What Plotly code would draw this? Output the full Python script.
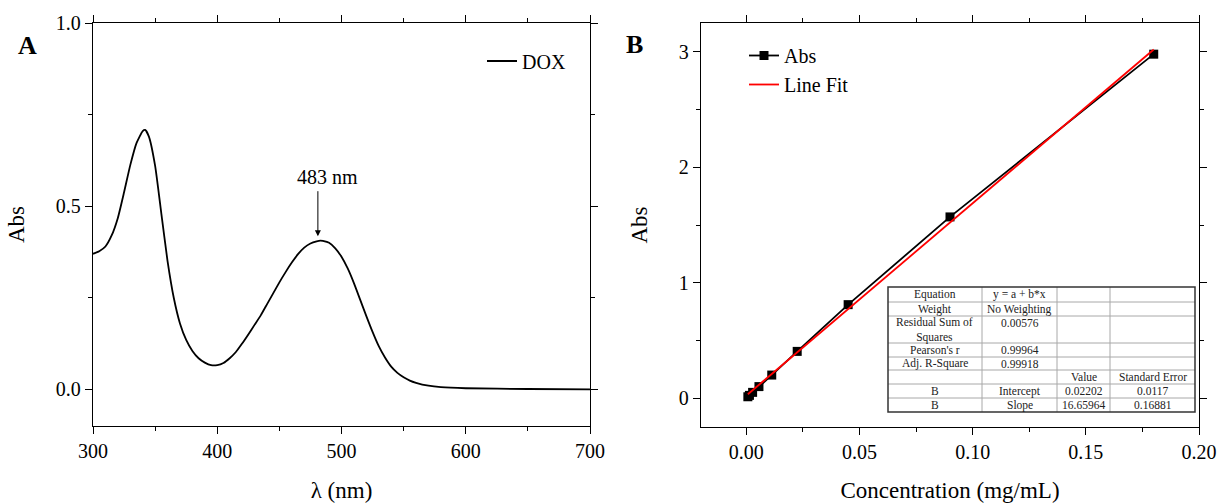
import plotly.graph_objects as go

# ---------------- data ----------------
wavelength = [300, 305, 310, 315, 320, 325, 330, 335, 340, 342, 345, 350, 355, 360, 365, 370,
              375, 380, 385, 390, 395, 400, 405, 410, 415, 420, 425, 430, 435, 440, 445, 450,
              455, 460, 465, 470, 475, 480, 483, 485, 490, 495, 500, 505, 510, 515, 520, 525,
              530, 535, 540, 545, 550, 555, 560, 570, 580, 600, 650, 700]
absorbance = [0.370, 0.377, 0.390, 0.420, 0.468, 0.538, 0.612, 0.672, 0.705, 0.708, 0.690, 0.610,
              0.480, 0.350, 0.250, 0.180, 0.135, 0.105, 0.085, 0.073, 0.066, 0.066, 0.072, 0.085,
              0.102, 0.125, 0.150, 0.176, 0.202, 0.232, 0.262, 0.292, 0.320, 0.346, 0.369, 0.387,
              0.398, 0.404, 0.406, 0.405, 0.400, 0.385, 0.362, 0.330, 0.290, 0.245, 0.200, 0.157,
              0.118, 0.087, 0.062, 0.045, 0.033, 0.024, 0.018, 0.010, 0.006, 0.003, 0.001, 0.000]

conc = [0.0007, 0.0014, 0.0028, 0.0056, 0.01125, 0.0225, 0.045, 0.09, 0.18]
abs_vals = [0.012, 0.024, 0.050, 0.100, 0.200, 0.405, 0.810, 1.570, 2.980]

fit_intercept = 0.02202
fit_slope = 16.65964
fit_x = [conc[0], conc[-1]]
fit_y = [fit_intercept + fit_slope * v for v in fit_x]

table_rows = [
    ["Equation", "y = a + b*x", "", ""],
    ["Weight", "No Weighting", "", ""],
    ["Residual Sum of<br>Squares", "0.00576", "", ""],
    ["Pearson's r", "0.99964", "", ""],
    ["Adj. R-Square", "0.99918", "", ""],
    ["", "", "Value", "Standard Error"],
    ["B", "Intercept", "0.02202", "0.0117"],
    ["B", "Slope", "16.65964", "0.16881"],
]

peak_label = "483 nm"
peak_nm = 481

# ---------------- layout helpers ----------------
W, H = 1221, 503
FONT = "Liberation Serif"


def px(x):
    return x / W


def py(y):
    return 1 - y / H


fig = go.Figure()

fig.add_trace(go.Scatter(
    x=wavelength, y=absorbance, mode="lines", name="DOX",
    line=dict(color="black", width=1.8, shape="spline", smoothing=0.5),
    xaxis="x", yaxis="y", legend="legend", showlegend=True))

fig.add_trace(go.Scatter(
    x=conc, y=abs_vals, mode="lines+markers", name="Abs",
    line=dict(color="black", width=1.8),
    marker=dict(symbol="square", size=9, color="black"),
    xaxis="x2", yaxis="y2", legend="legend2"))

fig.add_trace(go.Scatter(
    x=fit_x, y=fit_y, mode="lines", name="Line Fit",
    line=dict(color="#ff0000", width=1.8),
    xaxis="x2", yaxis="y2", legend="legend2"))

axis_common = dict(
    showline=True, linecolor="black", linewidth=1.3, mirror="ticks",
    ticks="outside", ticklen=7, tickwidth=1.3, tickcolor="black",
    showgrid=False, zeroline=False, automargin=False,
    tickfont=dict(family=FONT, size=20, color="black"),
)
minor_common = dict(ticklen=4, tickwidth=1.3, tickcolor="black", showgrid=False)
title_font = dict(family=FONT, size=23, color="black")

fig.update_layout(
    width=W, height=H,
    margin=dict(l=0, r=0, t=0, b=0),
    paper_bgcolor="white", plot_bgcolor="white",
    font=dict(family=FONT, color="black"),
    xaxis=dict(domain=[px(93), px(590)], range=[300, 700], tick0=300, dtick=100,
               minor=dict(dtick=50, **minor_common),
               title=dict(text="λ (nm)", font=title_font, standoff=20),
               anchor="y", **axis_common),
    yaxis=dict(domain=[py(426), py(23)], range=[-0.1, 1.0], tick0=0, dtick=0.5, tickformat=".1f",
               minor=dict(dtick=0.25, tick0=0, **minor_common),
               title=dict(text="Abs", font=title_font, standoff=24),
               anchor="x", **axis_common),
    xaxis2=dict(domain=[px(701), px(1199)], range=[-0.02, 0.20], tick0=0, dtick=0.05, tickformat=".2f",
                minor=dict(dtick=0.025, tick0=0, **minor_common),
                title=dict(text="Concentration (mg/mL)", font=title_font, standoff=20),
                anchor="y2", **axis_common),
    yaxis2=dict(domain=[py(427), py(23)], range=[-0.25, 3.25], tick0=0, dtick=1,
                minor=dict(dtick=0.5, tick0=0, **minor_common),
                title=dict(text="Abs", font=title_font, standoff=24),
                anchor="x2", **axis_common),
    legend=dict(x=px(482), y=py(61), xanchor="left", yanchor="middle",
                bgcolor="rgba(0,0,0,0)", borderwidth=0,
                font=dict(family=FONT, size=20, color="black")),
    legend2=dict(x=px(744), y=py(70), xanchor="left", yanchor="middle",
                 bgcolor="rgba(0,0,0,0)", borderwidth=0, tracegroupgap=0,
                 font=dict(family=FONT, size=20, color="black")),
)

annotations = []
# panel letters
annotations.append(dict(text="<b>A</b>", x=px(27), y=py(45), xref="paper", yref="paper",
                        xanchor="center", yanchor="middle",
                        showarrow=False, font=dict(family=FONT, size=26, color="black")))
annotations.append(dict(text="<b>B</b>", x=px(634), y=py(44), xref="paper", yref="paper",
                        xanchor="center", yanchor="middle",
                        showarrow=False, font=dict(family=FONT, size=26, color="black")))
# peak arrow and label
annotations.append(dict(x=peak_nm, y=0.418, ax=peak_nm, ay=0.545, xref="x", yref="y",
                        axref="x", ayref="y", showarrow=True, arrowhead=2, arrowsize=1.2,
                        arrowwidth=1, arrowcolor="black", text=""))
annotations.append(dict(x=489, y=0.58, xref="x", yref="y", text=peak_label, showarrow=False,
                        font=dict(family=FONT, size=20, color="black")))

# ---------------- fit table (drawn as shapes + text) ----------------
col_edges = [888, 982, 1057, 1110, 1195]
row_edges = [287, 302, 316, 343, 357, 370, 384, 398, 412]
shapes = []
shapes.append(dict(type="rect", xref="paper", yref="paper",
                   x0=px(col_edges[0]), x1=px(col_edges[-1]), y0=py(row_edges[-1]), y1=py(row_edges[0]),
                   fillcolor="white", line=dict(width=0), layer="above"))
for xe in col_edges[1:-1]:
    shapes.append(dict(type="line", xref="paper", yref="paper", x0=px(xe), x1=px(xe),
                       y0=py(row_edges[-1]), y1=py(row_edges[0]),
                       line=dict(color="#a8a8a8", width=1), layer="above"))
for ye in row_edges[1:-1]:
    shapes.append(dict(type="line", xref="paper", yref="paper", x0=px(col_edges[0]), x1=px(col_edges[-1]),
                       y0=py(ye), y1=py(ye), line=dict(color="#a8a8a8", width=1), layer="above"))
shapes.append(dict(type="rect", xref="paper", yref="paper",
                   x0=px(col_edges[0]), x1=px(col_edges[-1]), y0=py(row_edges[-1]), y1=py(row_edges[0]),
                   fillcolor="rgba(0,0,0,0)", line=dict(color="#333333", width=1.5), layer="above"))

for ri, row in enumerate(table_rows):
    top, bot = row_edges[ri], row_edges[ri + 1]
    for ci, txt in enumerate(row):
        if not txt:
            continue
        cx = (col_edges[ci] + col_edges[ci + 1]) / 2
        if bot - top > 20 and "<br>" not in txt:
            cy = top + 7
        else:
            cy = (top + bot) / 2
        annotations.append(dict(text=txt, x=px(cx), y=py(cy), xref="paper", yref="paper",
                                showarrow=False, xanchor="center", yanchor="middle",
                                font=dict(family=FONT, size=11.5, color="#222222")))

fig.update_layout(shapes=shapes, annotations=annotations)

fig.write_html("out.html")
